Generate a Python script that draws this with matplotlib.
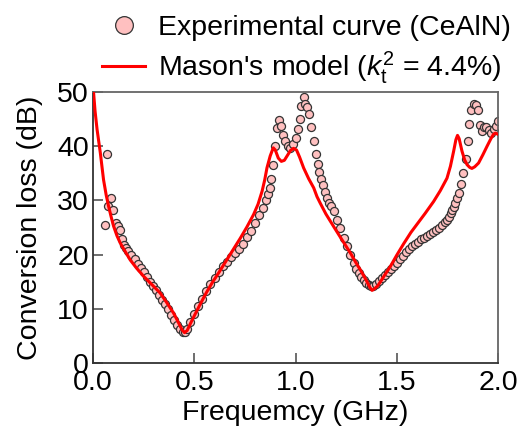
import matplotlib
matplotlib.use('Agg')
import matplotlib.pyplot as plt

plt.rcParams['font.family'] = ['Liberation Sans', 'DejaVu Sans']
plt.rcParams['mathtext.fontset'] = 'custom'
plt.rcParams['mathtext.rm'] = 'Liberation Sans'
plt.rcParams['mathtext.it'] = 'Liberation Sans:italic'

# Experimental curve (CeAlN)
exp_freq = [0.059, 0.069, 0.076, 0.090, 0.100, 0.112, 0.121, 0.131, 0.141, 0.151, 0.163,
            0.175, 0.19, 0.205, 0.22, 0.235, 0.25, 0.265, 0.28, 0.295, 0.31, 0.325, 0.34,
            0.355, 0.37, 0.385, 0.40, 0.415, 0.43, 0.445, 0.455, 0.465,
            0.48, 0.50, 0.52, 0.54, 0.56, 0.58, 0.60, 0.62, 0.64, 0.66, 0.68, 0.70, 0.72,
            0.74, 0.76, 0.78, 0.80, 0.82, 0.84, 0.855, 0.865, 0.875, 0.88, 0.889, 0.900,
            0.909, 0.917, 0.928, 0.938, 0.950, 0.961, 0.974, 0.988, 1.0, 1.01, 1.02, 1.027,
            1.040, 1.048, 1.057, 1.068, 1.078, 1.091, 1.101, 1.109, 1.116, 1.124, 1.134,
            1.145, 1.155, 1.165, 1.175, 1.188, 1.205, 1.221, 1.238, 1.254, 1.271, 1.287,
            1.30, 1.312, 1.325, 1.336, 1.35, 1.361, 1.372, 1.385, 1.395, 1.41, 1.425, 1.44,
            1.455, 1.47, 1.485, 1.50, 1.515, 1.53, 1.545, 1.56, 1.575, 1.59, 1.605, 1.62,
            1.635, 1.65, 1.665, 1.68, 1.695, 1.71, 1.725, 1.74, 1.75, 1.758, 1.766, 1.774,
            1.782, 1.79, 1.798, 1.807, 1.819, 1.828, 1.840, 1.850, 1.858, 1.868, 1.880,
            1.893, 1.901, 1.909, 1.919, 1.929, 1.942, 1.954, 1.965, 1.978, 1.992, 2.0]
exp_loss = [25.5, 38.6, 28.9, 30.4, 28.3, 25.9, 25.3, 24.6, 22.9, 21.8, 21.2,
            20.6, 19.9, 19.2, 18.3, 17.5, 16.7, 15.9, 15.0, 14.2, 13.4, 12.6, 11.7,
            10.9, 9.9, 8.9, 7.9, 7.0, 6.2, 5.8, 5.8, 6.3,
            7.5, 9.0, 10.5, 11.9, 13.2, 14.5, 15.7, 16.8, 17.9, 18.7, 19.5, 20.3, 21.0,
            21.9, 23.2, 24.4, 25.9, 27.3, 28.6, 30.0, 31.2, 32.3, 34.0, 36.5, 40.0,
            43.4, 44.8, 43.8, 42.1, 41.0, 40.1, 39.7, 40.4, 41.5, 43.2, 45.0, 47.5,
            49.0, 47.7, 47.2, 46.0, 43.5, 40.9, 38.6, 36.8, 35.3, 34.0, 32.8,
            31.6, 30.4, 29.6, 29.0, 28.0, 26.4, 24.9, 23.0, 21.5, 20.0, 18.4,
            17.4, 16.6, 15.8, 15.3, 14.8, 14.4, 14.2, 14.3, 14.6, 15.1, 15.6, 16.2,
            16.8, 17.3, 17.9, 18.5, 19.2, 19.8, 20.4, 21.0, 21.5, 22.0, 22.4, 22.8,
            23.1, 23.4, 23.8, 24.2, 24.6, 25.0, 25.5, 26.0, 26.4, 27.0, 27.6, 28.3,
            28.8, 29.5, 30.5, 31.4, 33.0, 35.1, 37.7, 40.9, 44.1, 46.6, 47.8,
            47.6, 46.7, 44.0, 42.8, 43.5, 43.5, 42.9, 42.5, 43.1, 43.7, 44.6]

# Mason's model (kt^2 = 4.4%)
model_freq = [0.0, 0.003, 0.01, 0.02, 0.036, 0.052, 0.065, 0.077, 0.09, 0.102, 0.118,
              0.135, 0.16, 0.184, 0.215, 0.25, 0.29, 0.332, 0.365, 0.398, 0.42, 0.44,
              0.452, 0.465, 0.48, 0.50, 0.53, 0.56, 0.59, 0.62, 0.645, 0.685, 0.727,
              0.76, 0.793, 0.815, 0.835, 0.848, 0.859, 0.875, 0.89, 0.90, 0.915, 0.93,
              0.945, 0.96, 0.975, 0.99, 1.005, 1.02, 1.04, 1.065, 1.09, 1.106, 1.122,
              1.15, 1.188, 1.23, 1.271, 1.30, 1.32, 1.34, 1.353, 1.368, 1.378, 1.39,
              1.405, 1.418, 1.44, 1.468, 1.50, 1.534, 1.57, 1.60, 1.64, 1.682, 1.715,
              1.748, 1.765, 1.781, 1.792, 1.800, 1.808, 1.822, 1.835, 1.847, 1.86,
              1.871, 1.885, 1.904, 1.925, 1.946, 1.965, 1.978, 1.987, 2.0]
model_loss = [50.5, 49.8, 46.5, 43.1, 38.8, 33.8, 31.0, 28.9, 26.9, 25.2, 23.5,
              22.1, 20.5, 19.0, 17.5, 16.0, 14.5, 12.9, 11.1, 9.2, 7.6, 6.1,
              5.6, 6.0, 7.2, 8.7, 10.9, 13.0, 14.9, 16.6, 18.1, 20.5, 23.0,
              25.1, 27.4, 29.3, 31.7, 33.8, 36.0, 38.2, 39.7, 39.3, 37.8, 37.2,
              37.4, 38.3, 39.2, 39.6, 39.3, 38.0, 36.0, 34.0, 32.3, 30.7, 29.5,
              27.5, 25.2, 22.7, 20.3, 18.4, 17.2, 15.9, 15.0, 13.9, 13.4, 13.7,
              14.2, 14.9, 16.2, 17.8, 19.9, 22.0, 24.1, 25.6, 27.6, 29.8, 31.8,
              34.1, 36.3, 39.1, 41.2, 42.0, 41.4, 39.1, 37.5, 36.6, 36.1,
              35.9, 36.2, 36.9, 38.4, 40.0, 41.4, 42.2, 42.4, 42.2]

fs = 20.5

fig = plt.figure(figsize=(5.27, 4.36), dpi=100)
ax = fig.add_axes([0.1765, 0.1674, 0.7685, 0.6216])

ax.plot(exp_freq, exp_loss, 'o', ms=5.8, mfc='#ffc0c0', mec='#333333', mew=0.9,
        label='Experimental curve (CeAlN)', zorder=2)
ax.plot(model_freq, model_loss, '-', color='#ff0000', lw=2.2,
        label="Mason's model ($k_\\mathrm{t}^2$ = 4.4%)", zorder=3)

ax.set_xlim(0, 2.0)
ax.set_ylim(0, 50)
ax.set_xticks([0.0, 0.5, 1.0, 1.5, 2.0])
ax.set_yticks([0, 10, 20, 30, 40, 50])
ax.set_xticklabels(['0.0', '0.5', '1.0', '1.5', '2.0'])
ax.tick_params(direction='in', length=7, width=1.2, color='#555555',
               labelsize=fs, top=False, right=False)
ax.tick_params(axis='x', pad=5)
ax.tick_params(axis='y', pad=3)
for s in ax.spines.values():
    s.set_color('#666666')
    s.set_linewidth(1.3)
ax.spines['left'].set_color('#333333')
ax.spines['bottom'].set_color('#333333')

ax.set_xlabel('Frequemcy (GHz)', fontsize=fs, labelpad=3)
ax.set_ylabel('Conversion loss (dB)', fontsize=fs, labelpad=10)

fig.legend(loc='upper right', bbox_to_anchor=(1.012, 1.018), frameon=False,
           fontsize=fs, markerscale=2.2, handlelength=1.5, handletextpad=0.45,
           labelspacing=0.3, borderpad=0.3)

fig.savefig('out.png', dpi=100)
